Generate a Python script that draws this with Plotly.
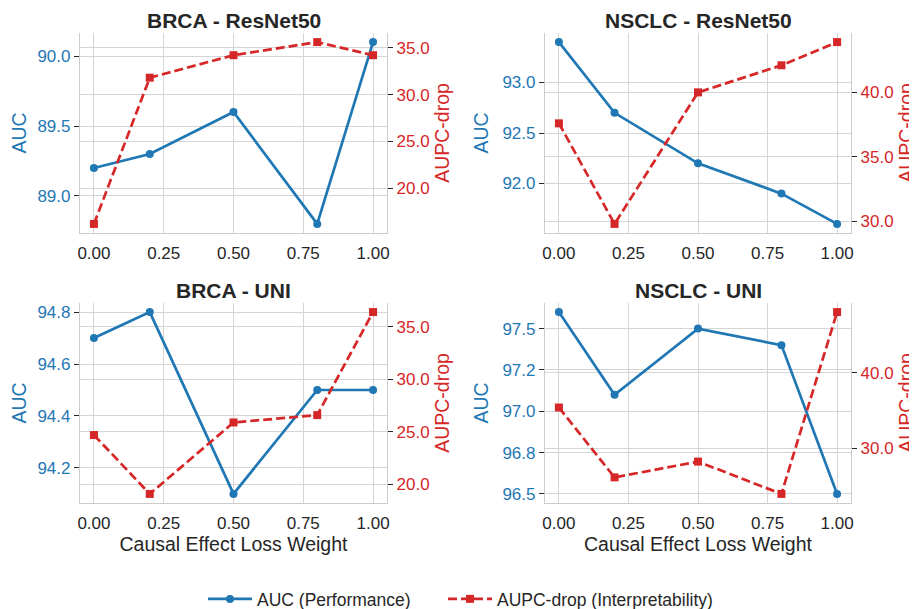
import plotly.graph_objects as go

# ---------------- data ----------------
weights = [0.0, 0.2, 0.5, 0.8, 1.0]

titles = ["BRCA - ResNet50", "NSCLC - ResNet50", "BRCA - UNI", "NSCLC - UNI"]

brca_resnet_auc = [89.2, 89.3, 89.6, 88.8, 90.1]
brca_resnet_aupc = [16.2, 31.8, 34.2, 35.6, 34.2]
nsclc_resnet_auc = [93.4, 92.7, 92.2, 91.9, 91.6]
nsclc_resnet_aupc = [37.6, 29.8, 40.0, 42.1, 43.9]
brca_uni_auc = [94.7, 94.8, 94.1, 94.5, 94.5]
brca_uni_aupc = [24.7, 19.1, 25.9, 26.6, 36.4]
nsclc_uni_auc = [97.6, 97.1, 97.5, 97.4, 96.5]
nsclc_uni_aupc = [35.4, 26.1, 28.2, 23.9, 48.1]

x_tickvals = [0.0, 0.25, 0.5, 0.75, 1.0]
x_ticktext = ["0.00", "0.25", "0.50", "0.75", "1.00"]

auc_tickvals = [
    [89.0, 89.5, 90.0],
    [92.0, 92.5, 93.0],
    [94.2, 94.4, 94.6, 94.8],
    [96.5, 96.75, 97.0, 97.25, 97.5],
]
auc_ticktext = [
    ["89.0", "89.5", "90.0"],
    ["92.0", "92.5", "93.0"],
    ["94.2", "94.4", "94.6", "94.8"],
    ["96.5", "96.8", "97.0", "97.2", "97.5"],
]
aupc_tickvals = [
    [20, 25, 30, 35],
    [30, 35, 40],
    [20, 25, 30, 35],
    [30, 40],
]
aupc_ticktext = [
    ["20.0", "25.0", "30.0", "35.0"],
    ["30.0", "35.0", "40.0"],
    ["20.0", "25.0", "30.0", "35.0"],
    ["30.0", "40.0"],
]

auc_series = [brca_resnet_auc, nsclc_resnet_auc, brca_uni_auc, nsclc_uni_auc]
aupc_series = [brca_resnet_aupc, nsclc_resnet_aupc, brca_uni_aupc, nsclc_uni_aupc]

# ---------------- style ----------------
OX, OY = 8, 8            # page body margin
FW, FH = 909, 620        # figure size (bottom part falls below the window)
BLUE = "#1f77b4"
RED = "#d62728"
DARK = "#262626"
GRID = "#d5d5d5"
FONT = "Liberation Sans, Arial, sans-serif"


def px_x(p):
    return (p - OX) / FW


def px_y(p):
    return 1 - (p - OY) / FH


# pixel boxes of plot areas in the window (left, right, top, bottom)
boxes = [
    (80, 387, 33, 233),
    (545, 851, 33, 233),
    (80, 387, 303, 503),
    (545, 851, 303, 503),
]


def padded(vals):
    lo, hi = min(vals), max(vals)
    m = (hi - lo) * 0.05
    return [lo - m, hi + m]


xs_pad = padded(weights)

legend_common = dict(
    orientation="h", xanchor="left", yanchor="middle",
    font=dict(size=17.5, color=DARK), bgcolor="rgba(0,0,0,0)", itemwidth=44,
)

fig = go.Figure()
layout = dict(
    width=FW, height=FH,
    margin=dict(l=0, r=0, t=0, b=0),
    paper_bgcolor="white", plot_bgcolor="white",
    font=dict(family=FONT, color=DARK),
    showlegend=True,
    legend=dict(x=px_x(212 - 9), y=px_y(599), **legend_common),
    legend2=dict(x=px_x(452 - 9), y=px_y(599), **legend_common),
    annotations=[],
)

for i in range(4):
    l, r, t, b = boxes[i]
    xa = "x" if i == 0 else f"x{i + 1}"
    ya_l = "y" if i == 0 else f"y{2 * i + 1}"
    ya_r = f"y{2 * i + 2}"

    fig.add_trace(go.Scatter(
        x=weights, y=auc_series[i], xaxis=xa, yaxis=ya_l,
        mode="lines+markers", name="AUC (Performance)",
        line=dict(color=BLUE, width=2.7),
        marker=dict(symbol="circle", size=8, color=BLUE),
        showlegend=(i == 0), legend="legend",
    ))
    fig.add_trace(go.Scatter(
        x=weights, y=aupc_series[i], xaxis=xa, yaxis=ya_r,
        mode="lines+markers", name="AUPC-drop (Interpretability)",
        line=dict(color=RED, width=2.7, dash="9px,4px"),
        marker=dict(symbol="square", size=8, color=RED),
        showlegend=(i == 0), legend="legend2",
    ))

    xkey = "xaxis" if i == 0 else f"xaxis{i + 1}"
    ylkey = "yaxis" if i == 0 else f"yaxis{2 * i + 1}"
    yrkey = f"yaxis{2 * i + 2}"

    layout[xkey] = dict(
        domain=[px_x(l), px_x(r)], anchor=ya_l,
        range=xs_pad, tickvals=x_tickvals, ticktext=x_ticktext,
        showgrid=True, gridcolor=GRID, gridwidth=1, zeroline=False,
        showline=True, linecolor="#cccccc", linewidth=1.2,
        ticks="", tickfont=dict(size=17, color=DARK), ticklabelstandoff=4,
        automargin=False,
        title=dict(text="Causal Effect Loss Weight" if i >= 2 else "",
                   font=dict(size=19.5, color=DARK), standoff=5),
    )
    layout[ylkey] = dict(
        domain=[px_y(b), px_y(t)], anchor=xa,
        range=padded(auc_series[i]),
        tickvals=auc_tickvals[i], ticktext=auc_ticktext[i],
        showgrid=True, gridcolor=GRID, gridwidth=1, zeroline=False,
        showline=True, linecolor="#cccccc", linewidth=1.2,
        ticks="outside", ticklen=5, tickcolor=DARK, tickwidth=1,
        tickfont=dict(size=17, color=BLUE),
        title=dict(text="AUC", font=dict(size=19.5, color=BLUE), standoff=8),
    )
    layout[yrkey] = dict(
        overlaying=ya_l, side="right", anchor=xa,
        range=padded(aupc_series[i]),
        tickvals=aupc_tickvals[i], ticktext=aupc_ticktext[i],
        showgrid=True, gridcolor=GRID, gridwidth=1, zeroline=False,
        showline=True, linecolor="#cccccc", linewidth=1.2,
        ticks="outside", ticklen=5, tickcolor=DARK, tickwidth=1,
        tickfont=dict(size=17, color=RED),
        title=dict(text="AUPC-drop", font=dict(size=19.5, color=RED), standoff=6),
    )

    layout["annotations"].append(dict(
        text=f"<b>{titles[i]}</b>", xref="paper", yref="paper",
        x=px_x((l + r) / 2), y=px_y(t - 13), xanchor="center", yanchor="middle",
        showarrow=False, font=dict(size=21, color=DARK, family=FONT),
    ))

fig.update_layout(**layout)
fig.write_html("out.html")
